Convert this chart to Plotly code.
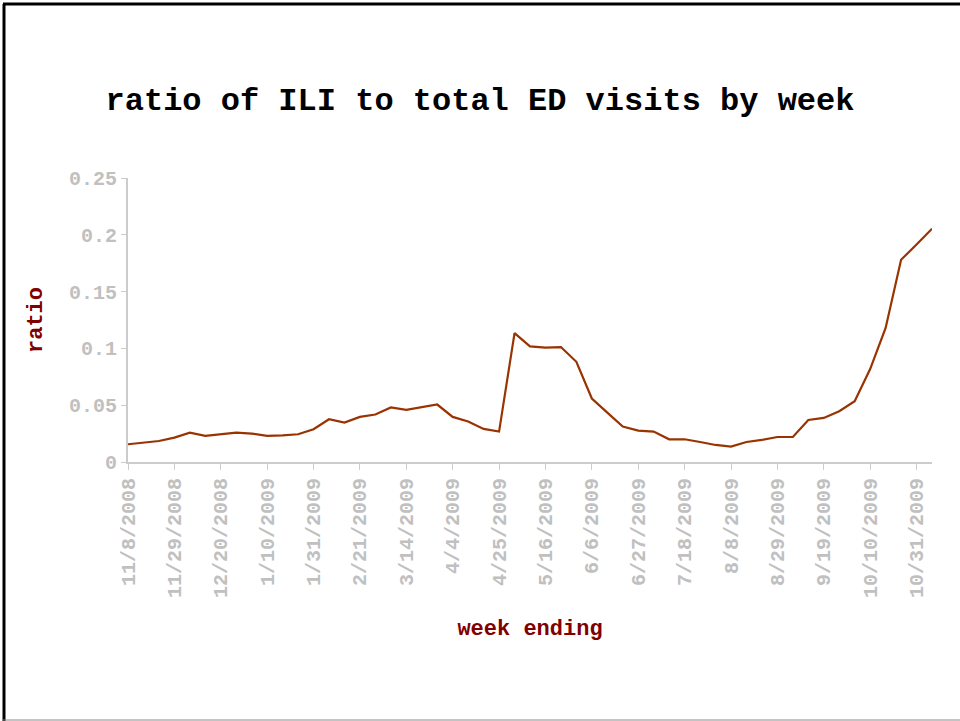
import plotly.graph_objects as go
import pandas as pd

start_week = "2008-11-08"
ratio = [0.0156, 0.0170, 0.0185, 0.0215, 0.0259, 0.0230, 0.0244, 0.0259, 0.0250, 0.0230,
         0.0235, 0.0244, 0.0288, 0.0376, 0.0347, 0.0397, 0.0418, 0.0480, 0.0459, 0.0485,
         0.0506, 0.0397, 0.0356, 0.0291, 0.0268, 0.1135, 0.1018, 0.1006, 0.1012, 0.0882,
         0.0559, 0.0435, 0.0312, 0.0276, 0.0268, 0.0200, 0.0200, 0.0176, 0.0150, 0.0135,
         0.0176, 0.0194, 0.0220, 0.0220, 0.0370, 0.0388, 0.0447, 0.0535, 0.0818, 0.1180,
         0.1780, 0.1915, 0.2053]
weeks = pd.date_range(start_week, periods=len(ratio), freq="7D")
tick_dates = weeks[::3]
tick_labels = [f"{d.month}/{d.day}/{d.year}" for d in tick_dates]
y_ticks = [0, 0.05, 0.1, 0.15, 0.2, 0.25]
y_tick_labels = ["0", "0.05", "0.1", "0.15", "0.2", "0.25"]

W, H = 960, 721
L, R, T, B = 128, 28, 178, 259
pw, ph = W - L - R, H - T - B

def px(x):
    return (x - L) / pw

def py(y):
    return (H - B - y) / ph

fig = go.Figure()
fig.add_trace(go.Scatter(x=weeks, y=ratio, mode="lines",
                         line=dict(color="#993300", width=2.2)))

mono = "Liberation Mono, Courier New, monospace"
fig.update_layout(
    width=W, height=H,
    margin=dict(l=L, r=R, t=T, b=B, autoexpand=False),
    paper_bgcolor="white", plot_bgcolor="white",
    showlegend=False,
    title=dict(text="<b>ratio of ILI to total ED visits by week</b>",
               font=dict(family=mono, size=32, color="black"),
               x=0.5, xanchor="center", xref="container", y=1 - 99 / H, yanchor="middle"),
    xaxis=dict(range=[weeks[0], weeks[-1]], tickvals=list(tick_dates), ticktext=tick_labels,
               tickangle=-90, tickfont=dict(family=mono, size=20, color="#c0c0c0", weight="bold"),
               showline=True, linecolor="#cccccc", linewidth=2, ticks="outside", ticklen=6,
               tickcolor="#cccccc", showgrid=False, zeroline=False,
               title=dict(text="<b>week ending</b>", font=dict(family=mono, size=22, color="#800000"),
                          standoff=23)),
    yaxis=dict(range=[0, 0.25], tickvals=y_ticks, ticktext=y_tick_labels,
               tickfont=dict(family=mono, size=20, color="#c0c0c0", weight="bold"),
               showline=True, linecolor="#cccccc", linewidth=2, ticks="outside", ticklen=5,
               tickcolor="#cccccc", showgrid=False, zeroline=False,
               title=dict(text="<b>ratio</b>", font=dict(family=mono, size=22, color="#800000"),
                          standoff=20)),
    shapes=[
        dict(type="line", xref="paper", yref="paper", x0=px(4), x1=px(4), y0=py(4), y1=py(721),
             line=dict(color="black", width=3)),
        dict(type="line", xref="paper", yref="paper", x0=px(3), x1=px(960), y0=py(4), y1=py(4),
             line=dict(color="black", width=3)),
        dict(type="line", xref="paper", yref="paper", x0=px(3), x1=px(960), y0=py(720), y1=py(720),
             line=dict(color="#888888", width=1)),
    ],
)
fig.write_html("out.html", config={"displayModeBar": False},
               post_script="document.body.style.margin='0';document.body.style.overflow='hidden';")
